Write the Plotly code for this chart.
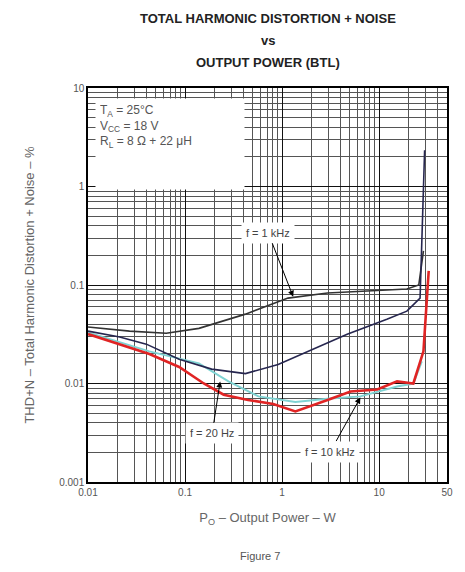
import plotly.graph_objects as go
import numpy as np

# Output power (W) and THD+N (%)
p_upper = [0.01, 0.0268, 0.064, 0.139, 0.419, 1.15, 2.94, 7.5, 19.3, 25.6, 28.6]
thd_upper = [0.0375, 0.034, 0.0324, 0.0363, 0.0506, 0.0736, 0.083, 0.087, 0.091, 0.1, 0.222]

p_lower = [0.01, 0.0212, 0.0399, 0.0869, 0.188, 0.419, 0.91, 1.85, 4.68, 12.0, 19.3, 26.4, 28.6, 29.4]
thd_lower = [0.034, 0.0297, 0.0251, 0.0176, 0.014, 0.0126, 0.0156, 0.0212, 0.0316, 0.0449, 0.0543, 0.0736, 0.72, 2.33]

p_red = [0.01, 0.0212, 0.0429, 0.0869, 0.156, 0.25, 0.446, 0.81, 1.37, 2.94, 5.07, 9.55, 15.3, 22.5, 28.6, 32.4]
thd_red = [0.0318, 0.0251, 0.0199, 0.0147, 0.0100, 0.0077, 0.0068, 0.0062, 0.0052, 0.0068, 0.0083, 0.0087, 0.0105, 0.0100, 0.0212, 0.139]

p_cyan = [0.01, 0.0429, 0.139, 0.28, 0.57, 1.37, 2.94, 6.4, 15.3, 22.5, 27.5]
thd_cyan = [0.033, 0.0212, 0.016, 0.0105, 0.0074, 0.0065, 0.007, 0.0074, 0.0093, 0.0100, 0.0168]

x_ticks = [0.01, 0.1, 1, 10, 50]
x_tick_labels = ["0.01", "0.1", "1", "10", "50"]
y_ticks = [0.001, 0.01, 0.1, 1, 10]
y_tick_labels = ["0.001", "0.01", "0.1", "1", "10"]

title_lines = ["TOTAL HARMONIC DISTORTION + NOISE", "vs", "OUTPUT POWER (BTL)"]

FONT = "Liberation Sans, Arial, sans-serif"

fig = go.Figure()
fig.add_trace(go.Scatter(x=p_cyan, y=thd_cyan, mode="lines",
                         line=dict(color="#7fd3d3", width=2), showlegend=False))
fig.add_trace(go.Scatter(x=p_upper, y=thd_upper, mode="lines",
                         line=dict(color="#333333", width=1.6), showlegend=False))
fig.add_trace(go.Scatter(x=p_lower, y=thd_lower, mode="lines",
                         line=dict(color="#26264f", width=1.6), showlegend=False))
fig.add_trace(go.Scatter(x=p_red, y=thd_red, mode="lines",
                         line=dict(color="#e02424", width=2.6), showlegend=False))

axis_common = dict(
    type="log", showline=True, linecolor="black", linewidth=1.5, mirror=True,
    showgrid=True, gridcolor="#111111", gridwidth=1.1,
    ticks="", zeroline=False,
    tickfont=dict(family=FONT, size=10, color="#555555"),
    minor=dict(showgrid=True, gridcolor="#555555", gridwidth=0.8, dtick="D1"),
)

fig.update_xaxes(**axis_common, range=[np.log10(0.01), np.log10(50)],
                 tickvals=x_ticks, ticktext=x_tick_labels,
                 title=dict(text="P<sub>O</sub> – Output Power – W",
                            font=dict(family=FONT, size=13, color="#666666"), standoff=16))
fig.update_yaxes(**axis_common, range=[np.log10(0.001), np.log10(10)],
                 tickvals=y_ticks, ticktext=y_tick_labels,
                 title=dict(text="THD+N – Total Harmonic Distortion + Noise – %",
                            font=dict(family=FONT, size=13, color="#666666"), standoff=22))

annotations = []
for line, shift in zip(title_lines, [70, 48, 26]):
    annotations.append(dict(text="<b>" + line + "</b>", xref="paper", yref="paper",
                            x=0.5, y=1.0, yshift=shift, xanchor="center", yanchor="middle",
                            showarrow=False, font=dict(family=FONT, size=13, color="#222222")))

annotations += [
    dict(text="T<sub>A</sub> = 25°C<br>V<sub>CC</sub> = 18 V<br>R<sub>L</sub> = 8 Ω + 22 μH",
         xref="paper", yref="paper", x=0.02, y=0.975, xanchor="left", yanchor="top",
         align="left", valign="top", width=140, height=82, showarrow=False,
         bgcolor="white", borderpad=4,
         font=dict(family=FONT, size=12, color="#555555")),
    dict(text="f = 1 kHz", x=np.log10(1.3), y=np.log10(0.076), xref="x", yref="y",
         ax=-25, ay=-64, showarrow=True, arrowhead=2, arrowsize=1.2, arrowwidth=1,
         arrowcolor="black", bgcolor="white", borderpad=4,
         font=dict(family=FONT, size=11, color="#444444")),
    dict(text="f = 20 Hz", x=np.log10(0.23), y=np.log10(0.0105), xref="x", yref="y",
         ax=-8, ay=52, showarrow=True, arrowhead=2, arrowsize=1.2, arrowwidth=1,
         arrowcolor="black", bgcolor="white", borderpad=4,
         font=dict(family=FONT, size=11, color="#444444")),
    dict(text="f = 10 kHz", x=np.log10(6.4), y=np.log10(0.0072), xref="x", yref="y",
         ax=-30, ay=54, showarrow=True, arrowhead=2, arrowsize=1.2, arrowwidth=1,
         arrowcolor="black", bgcolor="white", borderpad=4,
         font=dict(family=FONT, size=11, color="#444444")),
    dict(text="Figure 7", xref="paper", yref="paper", x=0.48, y=0, yshift=-66,
         xanchor="center", yanchor="top", showarrow=False,
         font=dict(family=FONT, size=11, color="#555555")),
]

fig.update_layout(
    width=465, height=572,
    margin=dict(l=88, r=15, t=88, b=90),
    paper_bgcolor="white", plot_bgcolor="white",
    annotations=annotations,
    showlegend=False,
)

fig.write_html("out.html")
